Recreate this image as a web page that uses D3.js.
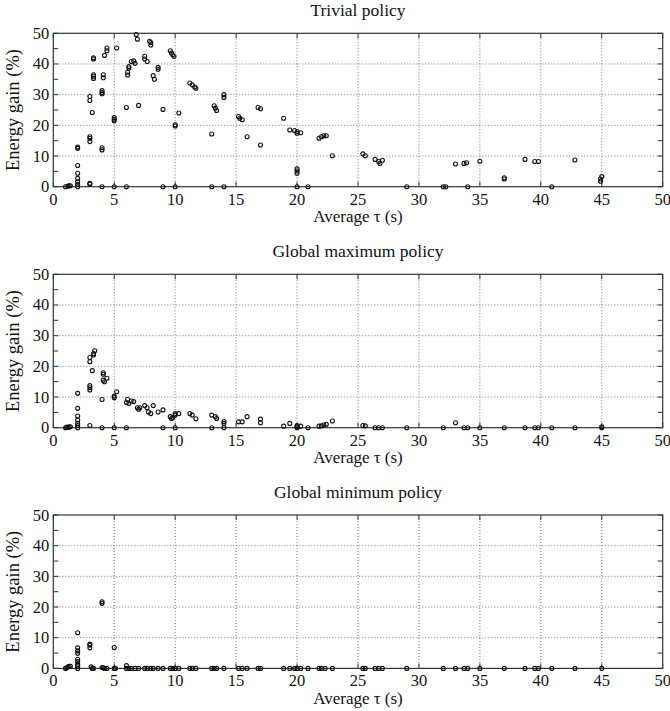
<!DOCTYPE html>
<html>
<head>
<meta charset="utf-8">
<script src="https://cdn.jsdelivr.net/npm/d3@7"></script>
<style>
  body { margin: 0; background: #fff; }
  text { font-family: "Liberation Serif", "Times New Roman", serif; fill: #111; }
  .grid line { stroke: #555; stroke-dasharray: 1, 2; stroke-width: 0.8; }
</style>
</head>
<body>
<div id="svg-container"></div>
<script>
////////////////////////////  Data  ///////////////////////////////
const titles = ["Trivial policy", "Global maximum policy", "Global minimum policy"];
const xTicks = [0, 5, 10, 15, 20, 25, 30, 35, 40, 45, 50];
const yTicks = [0, 10, 20, 30, 40, 50];
const yMinorTicks = [0, 5, 10, 15, 20, 25, 30, 35, 40, 45, 50];

const trivialPts = [
  [1.0, 0], [1.2, 0.2], [1.3, 0.3], [1.4, 0.3],
  [2, 0], [2, 0.8], [2, 1.6], [2, 2.7], [2, 4.4], [2, 6.9], [2, 12.5], [2, 12.9],
  [3, 1.1], [3, 0.8], [3, 29.4], [3, 28.1], [3, 16.3], [3, 15.8], [3, 14.7],
  [3.2, 24.2], [3.3, 42], [3.3, 41.6], [3.3, 36.5], [3.3, 36], [3.3, 35.3],
  [4, 0], [4, 12.7], [4, 12], [4, 31.3], [4, 30.7], [4, 30.3], [4.1, 36.5], [4.1, 35.5],
  [4.2, 42.8], [4.4, 45.2], [4.4, 44.3],
  [5, 0], [5, 22.5], [5, 22], [5, 21.5], [5.2, 45.2],
  [6, 0], [6, 25.8], [6.1, 37.3], [6.1, 36.4], [6.2, 39.2], [6.2, 38.7], [6.4, 40.8],
  [6.6, 41], [6.7, 40.2], [6.8, 49.6], [6.9, 48.1], [7, 26.5],
  [7.5, 42.5], [7.5, 41.6], [7.7, 40.8], [7.9, 47.4], [8, 47], [8, 46.2],
  [8.2, 36.2], [8.3, 35], [8.6, 38.9], [8.6, 38.3],
  [9, 0], [9, 25.2],
  [9.6, 44.3], [9.7, 43.6], [9.8, 43], [9.9, 42.5], [10, 20.2], [10, 19.8], [10.3, 24], [10, 0],
  [11.2, 33.8], [11.4, 33.2], [11.6, 32.5], [11.7, 32.1],
  [13, 0], [13, 17.2], [13.2, 26.4], [13.3, 25.6], [13.4, 24.8],
  [14, 0], [14, 30], [14, 29.1],
  [15.2, 22.9], [15.3, 22.3], [15.5, 21.8],
  [15.9, 16.3],
  [16.8, 25.8], [17.0, 25.4], [17.0, 13.6],
  [18.9, 22.3], [19.4, 18.5], [19.8, 18.3], [20, 0], [20, 18], [20, 17.4], [20, 5.8],
  [20, 5.1], [20, 4.4], [20.3, 17.6],
  [20.9, 0],
  [21.8, 15.8], [22, 16.3], [22.2, 16.6], [22.4, 16.6], [22.9, 10.1],
  [25.4, 10.7], [25.6, 10.1], [26.4, 8.9], [26.7, 8.2], [27, 8.6], [26.8, 7.6],
  [29, 0], [32, 0], [32.2, 0], [33, 7.4], [33.7, 7.6], [33.9, 7.8], [34, 0], [35, 8.3],
  [37, 2.9], [37, 2.5], [38.7, 8.9], [39.5, 8.2], [39.8, 8.2], [40.9, 0], [42.8, 8.7],
  [45, 3.3], [44.9, 2.5], [44.9, 1.8]
];

const globalMaxPts = [
  [1, 0], [1.1, 0.1], [1.2, 0.2], [1.3, 0.2], [1.4, 0.3],
  [2, 0], [2, 0.7], [2, 1.4], [2, 2.5], [2, 3.8], [2, 6.3], [2, 11.2],
  [3, 0.7], [3, 13.7], [3, 13], [3, 12.3], [3, 22.9], [3, 21.5], [3.2, 18.6],
  [3.3, 23.7], [3.3, 24.2], [3.4, 25.1],
  [4, 0], [4, 9.2], [4.1, 17.9], [4.1, 17.4], [4.1, 15.5], [4.2, 15], [4.4, 16.1],
  [5, 0], [5, 10.3], [5, 9.8], [5.2, 11.7],
  [6, 0], [6, 8.2], [6.1, 9.2], [6.2, 7.9], [6.4, 8.7], [6.6, 8.5],
  [6.9, 6.5], [7, 6], [7.1, 6.5],
  [7.5, 7.2], [7.7, 6.5], [7.8, 5.1], [8, 4.6], [8.2, 7.2], [8.6, 5.1],
  [9, 0], [9, 5.8],
  [9.6, 3.6], [9.7, 3], [9.8, 3.3], [10, 4.1], [10, 4.6], [10, 0], [10.3, 4.6],
  [11.2, 4.6], [11.4, 4.1], [11.7, 2.9],
  [13, 0], [13, 4.1], [13.3, 3.6], [13.4, 3],
  [14, 0], [14, 2], [14, 1.4],
  [15.2, 1.9], [15.5, 1.9],
  [15.9, 3.6],
  [17, 1.6], [17, 2.8],
  [18.9, 0.5], [19.4, 1.4], [20, 0], [20, 0.3], [20, 0.7], [20.3, 0.5],
  [20.9, 0],
  [21.8, 0.5], [22, 0.6], [22.2, 0.9], [22.4, 1.1], [22.9, 2.2],
  [25.4, 0.7], [25.6, 0.6], [26.4, 0], [26.7, 0], [27, 0],
  [29, 0], [32, 0], [33, 1.6], [33.7, 0], [34, 0], [35, 0], [37, 0], [38.7, 0],
  [39.5, 0], [39.8, 0], [40.9, 0], [42.8, 0], [45, 0], [45, 0.3]
];

const globalMinPts = [
  [1, 0], [1.1, 0.2], [1.2, 0.5], [1.3, 0.7], [1.4, 0.7],
  [2, 0], [2, 0.8], [2, 1.3], [2, 2.2], [2, 3], [2, 4.9], [2, 5.7], [2, 6.7], [2, 11.6],
  [3, 7.9], [3, 7.6], [3, 6.7], [3.1, 0.5], [3.2, 0], [3.3, 0],
  [4, 0.3], [4, 21.2], [4, 21.7], [4.1, 0.2], [4.2, 0], [4.4, 0],
  [5, 6.8], [5, 0], [5.1, 0],
  [6, 0.9], [6, 0], [6.2, 0], [6.4, 0], [6.7, 0], [7, 0], [7.5, 0], [7.7, 0], [8, 0],
  [8.2, 0], [8.6, 0], [9, 0], [9.6, 0], [9.8, 0], [10, 0], [10.3, 0], [11.2, 0],
  [11.4, 0], [11.7, 0], [13, 0], [13.2, 0], [13.4, 0], [14, 0], [15.2, 0], [15.5, 0],
  [15.9, 0], [16.8, 0], [17, 0], [18.9, 0], [19.4, 0], [19.8, 0], [20, 0], [20.3, 0],
  [20.9, 0], [21.8, 0], [22, 0], [22.3, 0], [22.9, 0], [25.4, 0], [25.6, 0], [26.4, 0],
  [26.7, 0], [27, 0], [29, 0], [32, 0], [33, 0], [33.7, 0], [34, 0], [35, 0], [37, 0],
  [38.7, 0], [39.5, 0], [39.8, 0], [40.9, 0], [42.8, 0], [45, 0]
];

const panels = [trivialPts, globalMaxPts, globalMinPts];

////////////////////////////  Init  ///////////////////////////////
const width = 670;
const height = 711;
const panelTops = [33.3, 274.3, 515];
const panelH = 153.4;
const margin = { left: 53.3, right: 7.3 };

const svg = d3.select("#svg-container").append("svg")
  .attr("width", width).attr("height", height);

const xScale = d3.scaleLinear().domain([0, 50]).range([margin.left, width - margin.right]);

panels.forEach((pts, i) => {
  const top = panelTops[i];
  const bottom = top + panelH;
  const yScale = d3.scaleLinear().domain([0, 50]).range([bottom, top]);
  const g = svg.append("g");

  // grid
  const grid = g.append("g").attr("class", "grid");
  grid.selectAll(".gx").data(xTicks.slice(1, -1)).enter().append("line")
    .attr("x1", d => xScale(d)).attr("x2", d => xScale(d))
    .attr("y1", top).attr("y2", bottom);
  grid.selectAll(".gy").data(yTicks.slice(1, -1)).enter().append("line")
    .attr("x1", xScale(0)).attr("x2", xScale(50))
    .attr("y1", d => yScale(d)).attr("y2", d => yScale(d));

  // ticks inside the box
  const tk = g.append("g").attr("stroke", "#333").attr("stroke-width", 1);
  yMinorTicks.forEach(d => {
    tk.append("line").attr("x1", xScale(0)).attr("x2", xScale(0) + 5)
      .attr("y1", yScale(d)).attr("y2", yScale(d));
    tk.append("line").attr("x1", xScale(50)).attr("x2", xScale(50) - 5)
      .attr("y1", yScale(d)).attr("y2", yScale(d));
  });
  xTicks.forEach(d => {
    tk.append("line").attr("x1", xScale(d)).attr("x2", xScale(d))
      .attr("y1", bottom).attr("y2", bottom - 5);
    tk.append("line").attr("x1", xScale(d)).attr("x2", xScale(d))
      .attr("y1", top).attr("y2", top + 5);
  });

  // box
  g.append("rect")
    .attr("x", xScale(0)).attr("y", top)
    .attr("width", xScale(50) - xScale(0)).attr("height", panelH)
    .attr("fill", "none").attr("stroke", "#333").attr("stroke-width", 1.2);

  // tick labels
  g.selectAll(".xl").data(xTicks).enter().append("text")
    .attr("x", d => xScale(d)).attr("y", bottom + 18)
    .attr("text-anchor", "middle").attr("font-size", 16.5)
    .text(d => d);
  g.selectAll(".yl").data(yTicks).enter().append("text")
    .attr("x", xScale(0) - 4).attr("y", d => yScale(d) + 5.5)
    .attr("text-anchor", "end").attr("font-size", 16.5)
    .text(d => d);

  // points
  g.selectAll("circle").data(pts).enter().append("circle")
    .attr("cx", d => xScale(d[0]))
    .attr("cy", d => yScale(d[1]))
    .attr("r", 2)
    .attr("fill", "none")
    .attr("stroke", "#111")
    .attr("stroke-width", 1.1);

  // title & units
  const cx = (xScale(0) + xScale(50)) / 2;
  g.append("text").attr("x", cx).attr("y", top - 17.5)
    .attr("text-anchor", "middle").attr("font-size", 17.5).text(titles[i]);
  g.append("text").attr("x", cx).attr("y", bottom + 35.5)
    .attr("text-anchor", "middle").attr("font-size", 17).text("Average τ (s)");
  g.append("text")
    .attr("transform", `translate(19, ${(top + bottom) / 2}) rotate(-90)`)
    .attr("text-anchor", "middle").attr("font-size", 18.5).text("Energy gain (%)");
});
</script>
</body>
</html>
